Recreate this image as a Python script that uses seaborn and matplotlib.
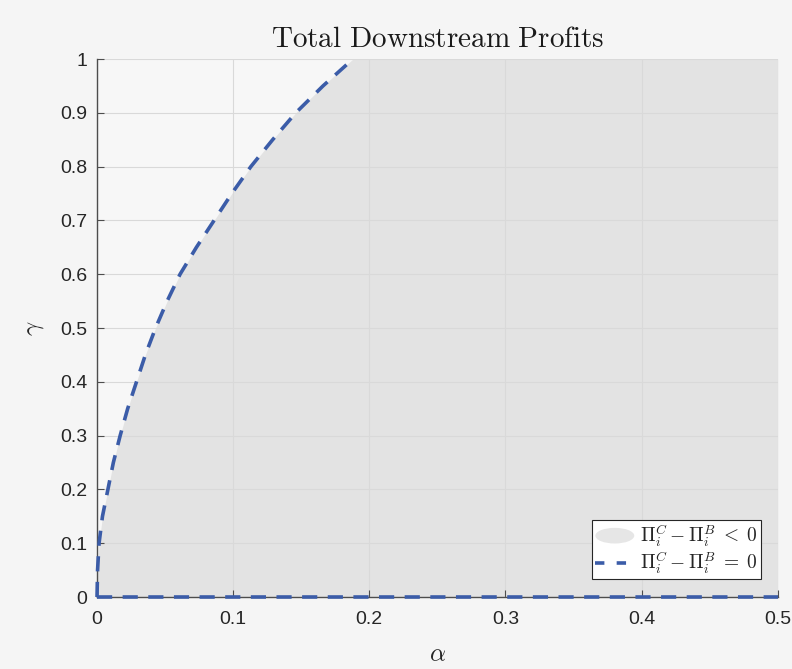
import matplotlib
matplotlib.use("Agg")
import matplotlib.pyplot as plt
import matplotlib.patches as mpatches
from matplotlib.legend_handler import HandlerPatch
from matplotlib.lines import Line2D
import pandas as pd
import seaborn as sns

# Boundary where Pi_C - Pi_B = 0 in the (alpha, gamma) plane
alpha_boundary = [0.0, 0.0004, 0.0015, 0.004, 0.008, 0.012, 0.017, 0.0225, 0.029, 0.0355,
                  0.043, 0.0515, 0.061, 0.073, 0.086, 0.099, 0.113, 0.129, 0.146, 0.166, 0.188]
gamma_boundary = [0.0, 0.05, 0.1, 0.15, 0.2, 0.25, 0.3, 0.35, 0.4, 0.45,
                  0.5, 0.55, 0.6, 0.65, 0.7, 0.75, 0.8, 0.85, 0.9, 0.95, 1.0]

# Second zero set along gamma = 0
alpha_axis_line = [0.0, 0.5]
gamma_axis_line = [0.0, 0.0]

x_ticks = [0, 0.1, 0.2, 0.3, 0.4, 0.5]
x_tick_labels = ["0", "0.1", "0.2", "0.3", "0.4", "0.5"]
y_ticks = [0, 0.1, 0.2, 0.3, 0.4, 0.5, 0.6, 0.7, 0.8, 0.9, 1.0]
y_tick_labels = ["0", "0.1", "0.2", "0.3", "0.4", "0.5", "0.6", "0.7", "0.8", "0.9", "1"]

title_text = r"$\mathrm{Total\ Downstream\ Profits}$"
legend_fill = r"$\Pi_i^C - \Pi_i^B \;<\; 0$"
legend_line = r"$\Pi_i^C - \Pi_i^B \;=\; 0$"

sns.set_style("ticks")
plt.rcParams["font.family"] = ["Liberation Sans", "DejaVu Sans"]
plt.rcParams["mathtext.fontset"] = "cm"

bg = "#f5f5f5"
fill_color = "#e3e3e3"
line_color = "#3b5ca8"
grid_color = "#d9d9d9"
spine_color = "#4d4d4d"
lw = 2.6
dash = (0, (4.2, 2.9))

fig = plt.figure(figsize=(7.92, 6.69), dpi=100, facecolor=bg)
ax = fig.add_axes([0.1225, 0.1076, 0.8595, 0.8042])
ax.set_facecolor("#f7f7f7")

# Negative region: right of the boundary curve
ax.fill_betweenx(gamma_boundary, alpha_boundary, 0.5, color=fill_color, lw=0, zorder=1)

df_curve = pd.DataFrame({"alpha": alpha_boundary, "gamma": gamma_boundary})
df_axis = pd.DataFrame({"alpha": alpha_axis_line, "gamma": gamma_axis_line})
sns.lineplot(data=df_curve, x="alpha", y="gamma", ax=ax, sort=False, color=line_color,
             zorder=3, clip_on=False)
sns.lineplot(data=df_axis, x="alpha", y="gamma", ax=ax, sort=False, color=line_color,
             zorder=3, clip_on=False)
for ln in ax.lines:
    ln.set_linewidth(lw)
    ln.set_linestyle(dash)
    ln.set_dash_capstyle("butt")
    ln.set_dash_joinstyle("round")

ax.set_xlim(0, 0.5)
ax.set_ylim(0, 1)
ax.set_xticks(x_ticks)
ax.set_xticklabels(x_tick_labels)
ax.set_yticks(y_ticks)
ax.set_yticklabels(y_tick_labels)
ax.tick_params(direction="in", length=5, width=0.8, color=spine_color,
               labelsize=14, labelcolor="#262626")
ax.tick_params(axis="x", pad=10)
ax.tick_params(axis="y", pad=7)

ax.set_axisbelow("line")
ax.grid(True, color=grid_color, lw=0.8)

for s in ["top", "right"]:
    ax.spines[s].set_visible(False)
for s in ["left", "bottom"]:
    ax.spines[s].set_color(spine_color)
    ax.spines[s].set_linewidth(1.0)

ax.set_title(title_text, fontsize=21, color="#1a1a1a", pad=9)
ax.set_xlabel(r"$\alpha$", fontsize=18, color="#262626", labelpad=10)
ax.set_ylabel(r"$\gamma$", fontsize=18, color="#262626", labelpad=10)


def make_ellipse(legend, orig_handle, xdescent, ydescent, width, height, fontsize):
    return mpatches.Ellipse(xy=(width / 2 - xdescent, height / 2 - ydescent),
                            width=width, height=height * 1.15)


fill_handle = mpatches.Patch(facecolor="#e6e6e6", edgecolor="none")
line_handle = Line2D([], [], color=line_color, lw=lw, linestyle=(0, (2.6, 3.4)))
leg = ax.legend([fill_handle, line_handle], [legend_fill, legend_line],
                loc="lower right", bbox_to_anchor=(0.975, 0.033), borderaxespad=0,
                fontsize=14, frameon=True, fancybox=False, framealpha=1,
                edgecolor="#262626", handlelength=2.0, handletextpad=0.3,
                borderpad=0.15, labelspacing=0.0,
                handler_map={mpatches.Patch: HandlerPatch(patch_func=make_ellipse)})
leg.get_frame().set_linewidth(0.8)
leg.set_zorder(5)

fig.savefig("out.png", dpi=100, facecolor=bg)
